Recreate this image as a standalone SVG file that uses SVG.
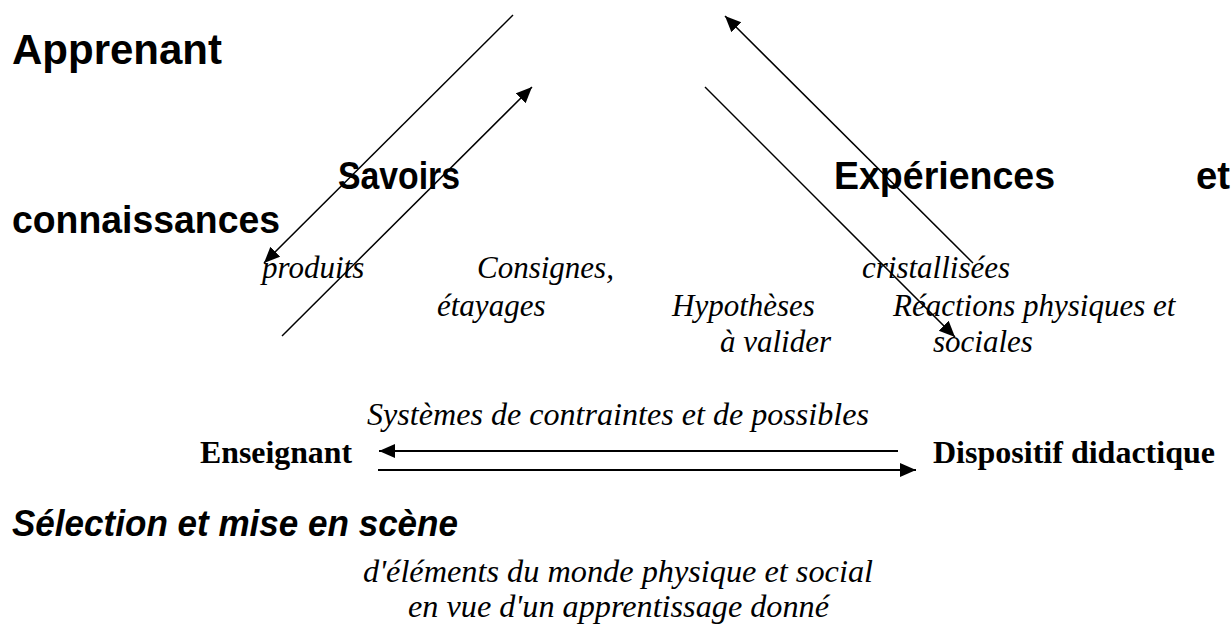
<svg xmlns="http://www.w3.org/2000/svg" width="1232" height="626" viewBox="0 0 1232 626">
<style>
.hs{font-family:"Liberation Sans",Arial,sans-serif;font-weight:bold;fill:#000}
.gs{font-family:"Liberation Sans",Arial,sans-serif;font-weight:bold;font-size:38px;fill:#000}
.it{font-family:"Liberation Serif","Times New Roman",serif;font-style:italic;font-size:31px;fill:#000}
.ig{font-family:"Liberation Serif","Times New Roman",serif;font-style:italic;font-size:32px;fill:#000}
.bs{font-family:"Liberation Serif","Times New Roman",serif;font-weight:bold;font-size:32px;fill:#000}
.si{font-family:"Liberation Sans",Arial,sans-serif;font-style:italic;font-weight:bold;font-size:37px;fill:#000}
.d{stroke:#000;stroke-width:1.5;fill:none}
.h{stroke:#000;stroke-width:2;fill:none}
</style>
<defs>
<marker id="ah" markerUnits="userSpaceOnUse" markerWidth="18" markerHeight="16" refX="16" refY="7" orient="auto" viewBox="0 0 18 16">
<path d="M0,0 L16,7 L0,14 z" fill="#000"/>
</marker>
</defs>
<rect width="1232" height="626" fill="#fff"/>
<g id="connectors">
<line class="d" x1="513" y1="15" x2="264" y2="263" marker-end="url(#ah)"/>
<line class="d" x1="282" y1="336" x2="532" y2="87" marker-end="url(#ah)"/>
<line class="d" x1="973" y1="263" x2="725" y2="16" marker-end="url(#ah)"/>
<line class="d" x1="705" y1="87" x2="955" y2="337" marker-end="url(#ah)"/>
<line class="h" x1="898" y1="451" x2="379" y2="451" marker-end="url(#ah)"/>
<line class="h" x1="378" y1="470" x2="916" y2="470" marker-end="url(#ah)"/>
</g>
<g id="apprenant"><text class="hs" x="12" y="64" font-size="42" textLength="210" lengthAdjust="spacingAndGlyphs">Apprenant</text></g>
<g id="savoirs"><text class="gs" x="338" y="189" textLength="122" lengthAdjust="spacingAndGlyphs">Savoirs</text></g>
<g id="experiences"><text class="gs" x="834" y="189" textLength="221" lengthAdjust="spacingAndGlyphs">Expériences</text><text class="gs" x="1196" y="189" textLength="34" lengthAdjust="spacingAndGlyphs">et</text></g>
<g id="connaissances"><text class="gs" x="12" y="233" textLength="268" lengthAdjust="spacingAndGlyphs">connaissances</text></g>
<g id="produits"><text class="it" x="262" y="278">produits</text></g>
<g id="consignes"><text class="it" x="477" y="278">Consignes,</text><text class="it" x="437" y="316">étayages</text></g>
<g id="cristallisees"><text class="it" x="862" y="278">cristallisées</text></g>
<g id="hypotheses"><text class="it" x="672" y="316">Hypothèses</text><text class="it" x="720" y="352">à valider</text></g>
<g id="reactions"><text class="it" x="893" y="316">Réactions physiques et</text><text class="it" x="933" y="352">sociales</text></g>
<g id="systemes"><text class="ig" x="367" y="425" textLength="502" lengthAdjust="spacingAndGlyphs">Systèmes de contraintes et de possibles</text></g>
<g id="enseignant"><text class="bs" x="200" y="463" textLength="152" lengthAdjust="spacingAndGlyphs">Enseignant</text></g>
<g id="dispositif"><text class="bs" x="933" y="463" textLength="282" lengthAdjust="spacingAndGlyphs">Dispositif didactique</text></g>
<g id="selection"><text class="si" x="12" y="536" textLength="446" lengthAdjust="spacingAndGlyphs">Sélection et mise en scène</text></g>
<g id="elements"><text class="ig" x="363" y="582" textLength="510" lengthAdjust="spacingAndGlyphs">d'éléments du monde physique et social</text><text class="ig" x="408" y="617" textLength="421" lengthAdjust="spacingAndGlyphs">en vue d'un apprentissage donné</text></g>
</svg>
